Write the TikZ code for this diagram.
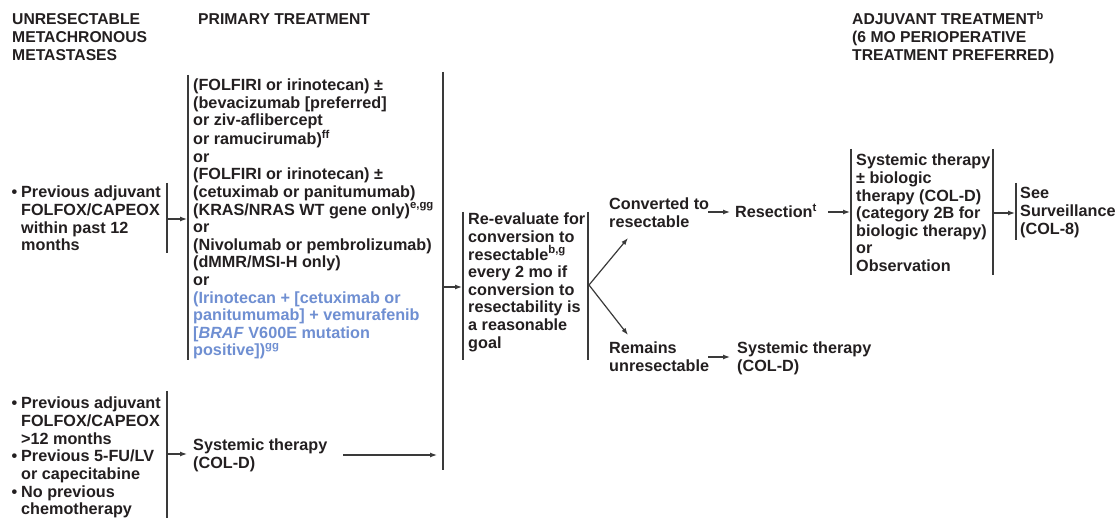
\documentclass[tikz,border=0pt]{standalone}
\usepackage{fontspec}
\setmainfont{Liberation Sans}
\usetikzlibrary{arrows.meta}
\definecolor{txt}{HTML}{231F20}
\definecolor{ln}{HTML}{3A3A3A}
\definecolor{bl}{HTML}{6F8FD2}
\begin{document}
\begin{tikzpicture}[x=1pt,y=-1pt,
  lbl/.style={anchor=base west,inner sep=0pt,align=left,text=txt,font=\bfseries\fontsize{16.2}{17.6}\selectfont},
  hdr/.style={lbl,font=\bfseries\fontsize{15.7}{18}\selectfont},
  bar/.style={draw=ln,line width=1.6pt},
  arr/.style={draw=ln,line width=1.2pt,-{Latex[length=7pt,width=5pt]}}]
\useasboundingbox[fill=white] (0,0) rectangle (1117,518);
% note: anchor base = baseline of the LAST line of each node

% headers
\node[hdr] (h1) at (12,61) {UNRESECTABLE\\METACHRONOUS\\METASTASES};
\node[hdr] (h2) at (198,25) {PRIMARY TREATMENT};
\node[hdr] (h3) at (852,61) {ADJUVANT TREATMENT\textsuperscript{b}\\(6 MO PERIOPERATIVE\\TREATMENT PREFERRED)};

% left box 1
\node[lbl] (l1) at (21,250.8) {\llap{•\hspace{4pt}}Previous adjuvant\\FOLFOX/CAPEOX\\within past 12\\months};
\coordinate (b1t) at (167,183); \coordinate (b1b) at (167,253);
\draw[bar] (b1t) -- (b1b);
\coordinate (b1m) at (167,219); \coordinate (m1in) at (187,219);
\draw[arr] (b1m) -- (m1in);

% main treatment box
\coordinate (mlt) at (188,75); \coordinate (mlb) at (188,360);
\draw[bar] (mlt) -- (mlb);
\node[lbl] (main) at (193,356) {(FOLFIRI or irinotecan) ±\\(bevacizumab [preferred]\\or ziv-aflibercept\\or ramucirumab)\textsuperscript{ff}\\or\\(FOLFIRI or irinotecan) ±\\(cetuximab or panitumumab)\\(KRAS/NRAS WT gene only)\textsuperscript{e,gg}\\or\\(Nivolumab or pembrolizumab)\\(dMMR/MSI-H only)\\or\\\textcolor{bl}{(Irinotecan + [cetuximab or}\\\textcolor{bl}{panitumumab] + vemurafenib}\\\textcolor{bl}{[\textit{BRAF} V600E mutation}\\\textcolor{bl}{positive])\textsuperscript{gg}}};

% big bar
\coordinate (bbt) at (443,72); \coordinate (bbb) at (443,470);
\draw[bar] (bbt) -- (bbb);

% bottom left box
\node[lbl] (l2) at (21,514.6) {\llap{•\hspace{4pt}}Previous adjuvant\\FOLFOX/CAPEOX\\>12 months\\\llap{•\hspace{4pt}}Previous 5-FU/LV\\or capecitabine\\\llap{•\hspace{4pt}}No previous\\chemotherapy};
\coordinate (b2t) at (167,391); \coordinate (b2b) at (167,520);
\draw[bar] (b2t) -- (b2b);
\coordinate (b2m) at (167,454); \coordinate (s1in) at (187,454);
\draw[arr] (b2m) -- (s1in);
\node[lbl] (sys1) at (193,468.6) {Systemic therapy\\(COL-D)};
\coordinate (s1out) at (343,455); \coordinate (bbin) at (437,455);
\draw[arr] (s1out) -- (bbin);

% re-evaluate box
\coordinate (bbm) at (443,287); \coordinate (rein) at (462,287);
\draw[arr] (bbm) -- (rein);
\coordinate (rlt) at (463,212); \coordinate (rlb) at (463,360);
\coordinate (rrt) at (588,212); \coordinate (rrb) at (588,360);
\draw[bar] (rlt) -- (rlb);
\draw[bar] (rrt) -- (rrb);
\node[lbl] (re) at (468,348.2) {Re-evaluate for\\conversion to\\resectable\textsuperscript{b,g}\\every 2 mo if\\conversion to\\resectability is\\a reasonable\\goal};

% fork
\coordinate (fk) at (589,285);
\coordinate (cvin) at (628,238);
\coordinate (rmin) at (628,335);
\draw[arr] (fk) -- (cvin);
\draw[arr] (fk) -- (rmin);

\node[lbl] (cv) at (609,227.6) {Converted to\\resectable};
\node[lbl] (rm) at (609,371.6) {Remains\\unresectable};

\coordinate (cvout) at (708,212); \coordinate (rsin) at (730,212);
\draw[arr] (cvout) -- (rsin);
\node[lbl] (rs) at (735,218) {Resection\textsuperscript{t}};
\coordinate (rsout) at (828,212); \coordinate (adin) at (850,212);
\draw[arr] (rsout) -- (adin);

\coordinate (rmout) at (708,357); \coordinate (s2in) at (730,357);
\draw[arr] (rmout) -- (s2in);
\node[lbl] (sys2) at (737,371.6) {Systemic therapy\\(COL-D)};

% adjuvant box
\coordinate (alt) at (851,149); \coordinate (alb) at (851,275);
\coordinate (art) at (993,149); \coordinate (arb) at (993,275);
\draw[bar] (alt) -- (alb);
\draw[bar] (art) -- (arb);
\node[lbl] (adj) at (856,271.6) {Systemic therapy\\± biologic\\therapy (COL-D)\\(category 2B for\\biologic therapy)\\or\\Observation};
\coordinate (arm) at (993,213); \coordinate (sein) at (1015,213);
\draw[arr] (arm) -- (sein);
\coordinate (st) at (1016,183); \coordinate (sb) at (1016,240);
\draw[bar] (st) -- (sb);
\node[lbl] (see) at (1020,234.2) {See\\Surveillance\\(COL-8)};
\end{tikzpicture}
\end{document}
